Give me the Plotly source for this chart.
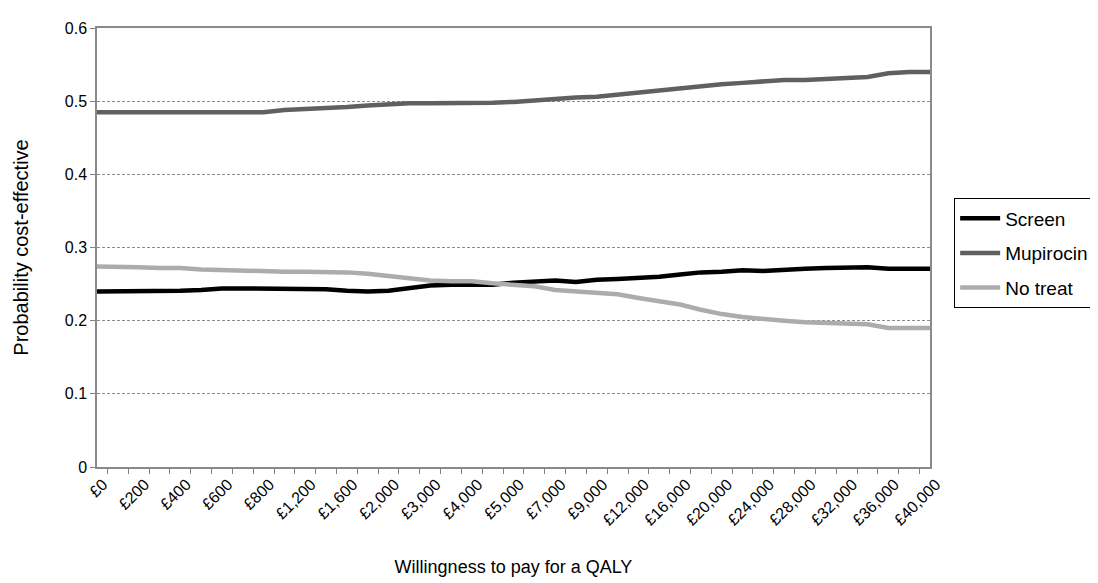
import plotly.graph_objects as go

categories = ["£0", "£100", "£200", "£300", "£400", "£500", "£600", "£700", "£800", "£1,000",
              "£1,200", "£1,400", "£1,600", "£1,800", "£2,000", "£2,500", "£3,000", "£3,500",
              "£4,000", "£4,500", "£5,000", "£6,000", "£7,000", "£8,000", "£9,000", "£10,000",
              "£12,000", "£14,000", "£16,000", "£18,000", "£20,000", "£22,000", "£24,000",
              "£26,000", "£28,000", "£30,000", "£32,000", "£34,000", "£36,000", "£38,000", "£40,000"]

screen = [0.240, 0.240, 0.240, 0.241, 0.241, 0.242, 0.244, 0.244, 0.244, 0.244,
          0.244, 0.243, 0.241, 0.240, 0.241, 0.244, 0.248, 0.249, 0.249, 0.249,
          0.252, 0.254, 0.255, 0.253, 0.256, 0.257, 0.258, 0.260, 0.263, 0.266,
          0.267, 0.269, 0.268, 0.270, 0.271, 0.272, 0.272, 0.273, 0.271, 0.271, 0.271]

mupirocin = [0.485, 0.485, 0.485, 0.485, 0.485, 0.485, 0.485, 0.485, 0.485, 0.488,
             0.489, 0.490, 0.492, 0.494, 0.496, 0.497, 0.497, 0.497, 0.497, 0.498,
             0.499, 0.501, 0.504, 0.505, 0.506, 0.509, 0.512, 0.515, 0.517, 0.520,
             0.523, 0.525, 0.527, 0.529, 0.529, 0.530, 0.532, 0.533, 0.538, 0.540, 0.540]

no_treat = [0.274, 0.274, 0.273, 0.272, 0.272, 0.270, 0.269, 0.269, 0.268, 0.267,
            0.267, 0.267, 0.266, 0.264, 0.261, 0.258, 0.255, 0.254, 0.254, 0.251,
            0.249, 0.247, 0.242, 0.240, 0.239, 0.236, 0.231, 0.227, 0.222, 0.215,
            0.209, 0.205, 0.202, 0.200, 0.198, 0.197, 0.196, 0.195, 0.190, 0.190, 0.190]

y_ticks = [0, 0.1, 0.2, 0.3, 0.4, 0.5, 0.6]
y_tick_text = ["0", "0.1", "0.2", "0.3", "0.4", "0.5", "0.6"]

series_names = ["Screen", "Mupirocin", "No treat"]
series_colors = ["#000000", "#606060", "#acacac"]

tick_text = [c if i % 2 == 0 else "" for i, c in enumerate(categories)]

fig = go.Figure()
for name, vals, col in zip(series_names, [screen, mupirocin, no_treat], series_colors):
    fig.add_trace(go.Scatter(x=categories, y=vals, mode="lines", name=name,
                             legendgroup=name,
                             line=dict(color=col, width=4.5)))

font_family = "Liberation Sans, Arial, sans-serif"

fig.update_layout(
    width=1098, height=583,
    margin=dict(l=89, r=169, t=16, b=124),
    plot_bgcolor="white", paper_bgcolor="white",
    font=dict(family=font_family, color="#000000", size=16),
    legend=dict(x=1.029, y=0.612, xanchor="left", yanchor="top",
                bordercolor="#000000", borderwidth=1,
                font=dict(size=19, family=font_family),
                tracegroupgap=7, itemwidth=40, bgcolor="white"),
    showlegend=True,
)

fig.update_xaxes(
    type="category", categoryorder="array", categoryarray=categories,
    tickmode="array", tickvals=categories, ticktext=tick_text,
    tickson="boundaries", ticks="outside", ticklen=5, tickcolor="#808080",
    tickangle=-45, tickfont=dict(size=16), ticklabelshift=6,
    showline=True, linecolor="#8a8a8a", linewidth=1.5, mirror=True,
    showgrid=False, zeroline=False,
    title=dict(text="Willingness to pay for a QALY", font=dict(size=18), standoff=33),
)

fig.update_yaxes(
    range=[0, 0.6], tickmode="array", tickvals=y_ticks, ticktext=y_tick_text,
    ticks="outside", ticklen=5, tickcolor="#808080", tickfont=dict(size=16),
    showline=True, linecolor="#8a8a8a", linewidth=1.5, mirror=True,
    showgrid=True, gridcolor="#8c8c8c", griddash="3px,2px", gridwidth=1,
    zeroline=False,
    title=dict(text="Probability cost-effective", font=dict(size=20), standoff=31),
)

fig.write_html("out.html")
